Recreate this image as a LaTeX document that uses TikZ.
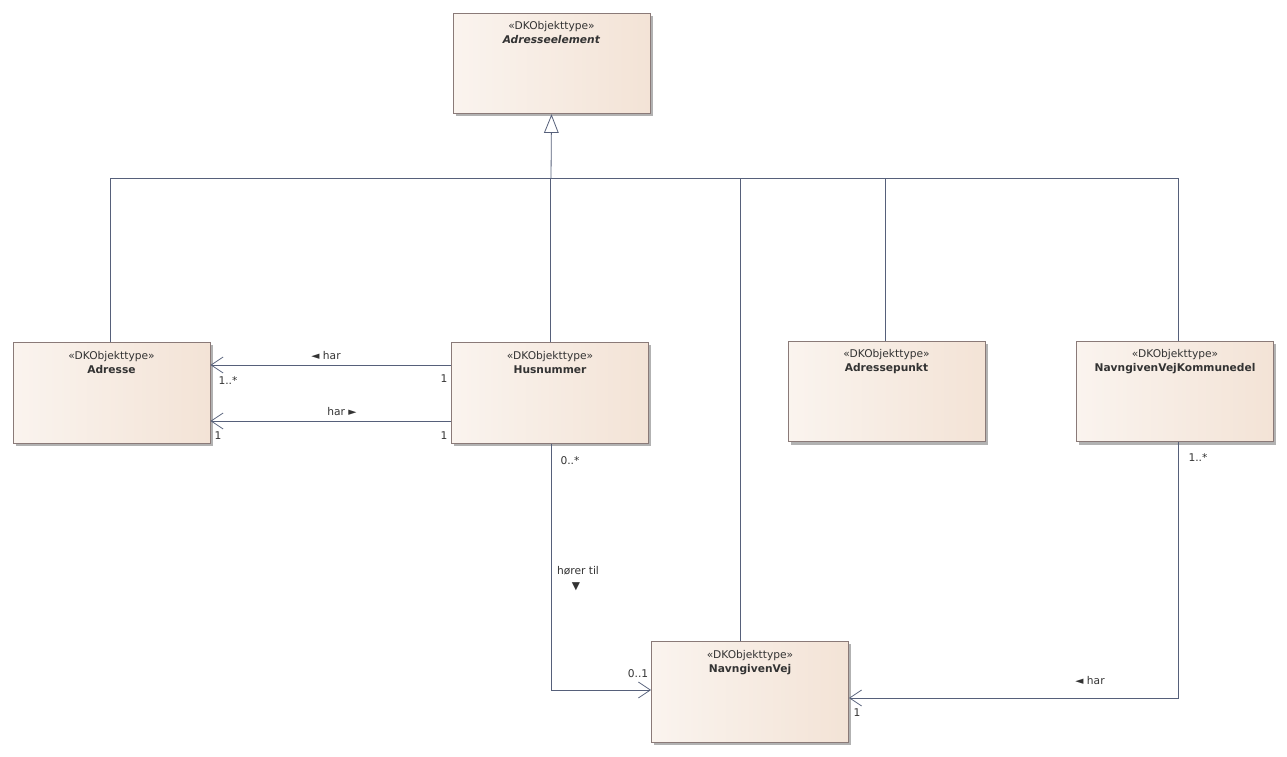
\documentclass[tikz,border=0pt]{standalone}
\usepackage{fontspec}
\setmainfont{DejaVu Sans}
\usetikzlibrary{arrows.meta,shadows}
\definecolor{lineclr}{HTML}{56607A}
\definecolor{boxedge}{HTML}{8A7A78}
\definecolor{peach}{HTML}{F3E3D6}
\definecolor{txtclr}{HTML}{333333}

\begin{document}
\begin{tikzpicture}[
    x=0.75pt, y=-0.75pt, line width=0.6pt,
    cls/.style={rectangle, draw=boxedge, left color=white!60!peach, right color=peach,
        minimum width=147.75pt, minimum height=75.5pt, inner sep=0pt,
        drop shadow={shadow xshift=2pt, shadow yshift=-2pt, fill=black!30, opacity=1}},
    ttl/.style={anchor=north, align=center, font=\fontsize{8}{10.5}\selectfont, text=txtclr},
    lbl/.style={font=\fontsize{8}{9}\selectfont, text=txtclr, inner sep=0pt},
    assoc/.style={draw=lineclr, -{Straight Barb[length=9pt, width=12pt]}},
    gen/.style={draw=lineclr, -{Triangle[open, length=14pt, width=11pt, fill=white]}},
    bus/.style={draw=lineclr}
]
    \useasboundingbox (0,0) rectangle (1287,756);

    % classes
    \node[cls] (elem) at (551.5,63.5) {};
    \node[ttl] at ([yshift=-3pt]elem.north) {«DKObjekttype»\\\textbf{\textit{Adresseelement}}};
    \node[cls] (adr) at (111.5,393) {};
    \node[ttl] at ([yshift=-3pt]adr.north) {«DKObjekttype»\\\textbf{Adresse}};
    \node[cls] (hus) at (550,393) {};
    \node[ttl] at ([yshift=-3pt]hus.north) {«DKObjekttype»\\\textbf{Husnummer}};
    \node[cls] (punkt) at (886.5,391.5) {};
    \node[ttl] at ([yshift=-3pt]punkt.north) {«DKObjekttype»\\\textbf{Adressepunkt}};
    \node[cls] (kdel) at (1175,391.5) {};
    \node[ttl] at ([yshift=-3pt]kdel.north) {«DKObjekttype»\\\textbf{NavngivenVejKommunedel}};
    \node[cls] (vej) at (750,692) {};
    \node[ttl] at ([yshift=-3pt]vej.north) {«DKObjekttype»\\\textbf{NavngivenVej}};

    % generalisation tree
    \coordinate (top) at (551,178);
    \draw[gen] (top) -- (elem.south);
    \draw[bus] (110,178) -- (1178,178);
    \draw[bus] (adr.north -| 110,178) -- (110,178);
    \draw[bus] (hus.north) -- (hus.north |- top);
    \draw[bus] (vej.north -| 740,178) -- (740,178);
    \draw[bus] (punkt.north -| 885,178) -- (885,178);
    \draw[bus] (kdel.north -| 1178,178) -- (1178,178);

    % associations
    \draw[assoc] (hus.west |- 0,365) -- (adr.east |- 0,365);
    \draw[assoc] (hus.west |- 0,421) -- (adr.east |- 0,421);
    \draw[assoc] (hus.south -| 551,0) |- (vej.west |- 0,690);
    \draw[assoc] (kdel.south -| 1178,0) |- (vej.east |- 0,698);

    % labels
    \node[lbl] at (326,356) {◄ har};
    \node[lbl] at (228,381) {1..*};
    \node[lbl] at (444,379) {1};
    \node[lbl] at (342,412) {har ►};
    \node[lbl] at (218,436) {1};
    \node[lbl] at (444,436) {1};
    \node[lbl] at (570,461) {0..*};
    \node[lbl] at (578,571) {hører til};
    \node[lbl] at (576,587) {▼};
    \node[lbl] at (638,674) {0..1};
    \node[lbl] at (1198,458) {1..*};
    \node[lbl] at (1090,681) {◄ har};
    \node[lbl] at (857,713) {1};
\end{tikzpicture}
\end{document}
